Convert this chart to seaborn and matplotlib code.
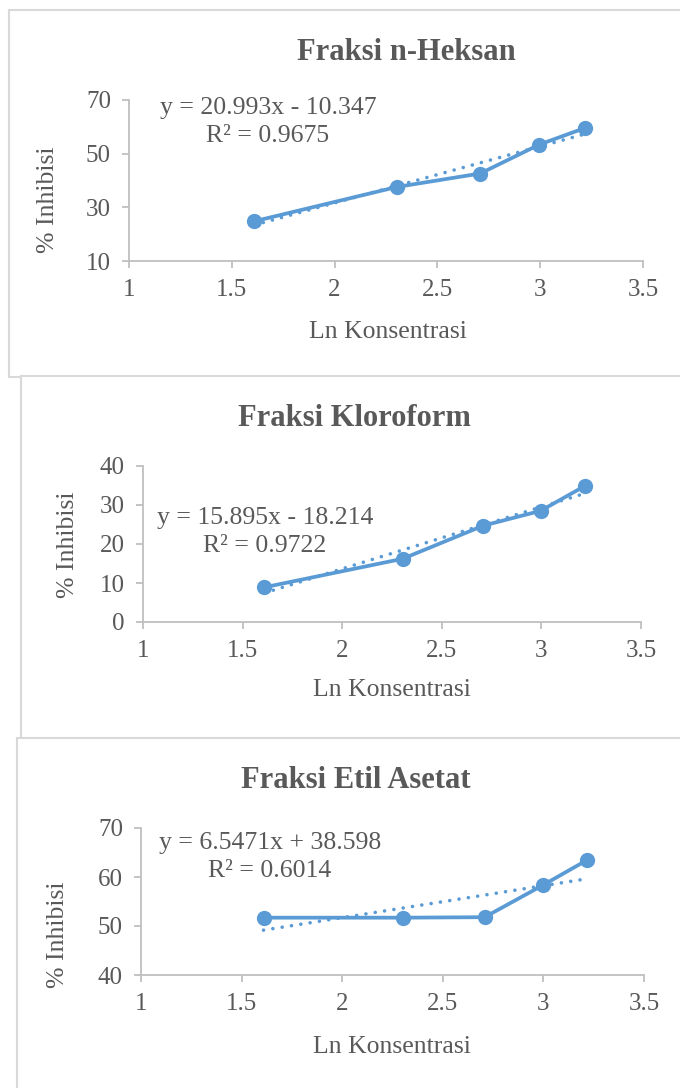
import matplotlib
matplotlib.use("Agg")
import matplotlib.pyplot as plt
from matplotlib.patches import Rectangle
import seaborn as sns
import pandas as pd

# ln konsentrasi (ln 5, 10, 15, 20, 25)
ln_konsentrasi = [1.609, 2.303, 2.708, 2.996, 3.219]

inhibisi_heksan = [24.8, 37.6, 42.6, 53.4, 59.6]
inhibisi_kloroform = [8.9, 16.2, 24.7, 28.5, 34.9]
inhibisi_etil = [51.7, 51.7, 51.8, 58.3, 63.5]

titles = ["Fraksi n-Heksan", "Fraksi Kloroform", "Fraksi Etil Asetat"]
equations = ["y = 20.993x - 10.347\nR² = 0.9675",
             "y = 15.895x - 18.214\nR² = 0.9722",
             "y = 6.5471x + 38.598\nR² = 0.6014"]
y_ticks = [[10, 30, 50, 70], [0, 10, 20, 30, 40], [40, 50, 60, 70]]
x_ticks = [1, 1.5, 2, 2.5, 3, 3.5]

sns.set_style("white")
plt.rcParams['font.family'] = ['Liberation Serif', 'DejaVu Serif']

W, H = 680, 1088
TXT = "#595959"
BLUE = "#5B9BD5"
AXC = "#BFBFBF"

fig = plt.figure(figsize=(W / 100, H / 100), dpi=100)
fig.patch.set_facecolor("white")


def fx(x):
    return x / W


def fy(y):
    return 1 - y / H


# chart frames (pixel boxes: x0, y0, x1, y1)
boxes = [(9, 10, 700, 377), (21, 376, 700, 738), (17, 738, 700, 1100)]
for i, (x0, y0, x1, y1) in enumerate(boxes):
    fig.add_artist(Rectangle((fx(x0), fy(y1)), (x1 - x0) / W, (y1 - y0) / H,
                             transform=fig.transFigure, facecolor="white",
                             edgecolor="#D9D9D9", lw=1.5, zorder=-3 + i))

# axes areas in pixels: left, right, top, bottom
axes_px = [(129, 643, 100, 261), (143, 641, 466, 622), (141, 644, 828, 975)]
title_pos = [(406, 52), (354, 418), (356, 780)]
eq_pos = [(268, 122), (265, 532), (270, 857)]
xlabel_pos = [(388, 332), (392, 690), (392, 1047)]
ylabel_pos = [(48, 200), (68, 545), (58, 935)]

series = [inhibisi_heksan, inhibisi_kloroform, inhibisi_etil]

for i, vals in enumerate(series):
    l, r, t, b = axes_px[i]
    ax = fig.add_axes([fx(l), fy(b), (r - l) / W, (b - t) / H])
    ax.set_facecolor("none")
    df = pd.DataFrame({"x": ln_konsentrasi, "y": vals})

    sns.lineplot(data=df, x="x", y="y", ax=ax, color=BLUE, lw=2.7,
                 marker="o", markersize=11, markeredgecolor=BLUE,
                 markeredgewidth=0, zorder=3, clip_on=False)
    sns.regplot(data=df, x="x", y="y", ax=ax, scatter=False, ci=None,
                line_kws=dict(color=BLUE, lw=2.6, ls=(0, (0.01, 2.6)),
                              dash_capstyle="round", zorder=4))

    ax.set_xlim(1, 3.5)
    ax.set_ylim(y_ticks[i][0], y_ticks[i][-1])
    ax.set_xticks(x_ticks)
    ax.set_xticklabels(["1", "1.5", "2", "2.5", "3", "3.5"])
    ax.set_yticks(y_ticks[i])
    ax.set_xlabel("")
    ax.set_ylabel("")
    for s in ["top", "right"]:
        ax.spines[s].set_visible(False)
    for s in ["left", "bottom"]:
        ax.spines[s].set_color(AXC)
        ax.spines[s].set_linewidth(1.3)
    ax.tick_params(axis="both", direction="out", length=5, width=1.3,
                   color=AXC, labelcolor=TXT, labelsize=18,
                   bottom=True, left=True)
    ax.tick_params(axis="x", pad=8)
    ax.tick_params(axis="y", pad=8)

    fig.text(fx(title_pos[i][0]), fy(title_pos[i][1]), titles[i],
             ha="center", va="center", fontsize=22, fontweight="bold",
             color=TXT)
    fig.text(fx(eq_pos[i][0]), fy(eq_pos[i][1]), equations[i],
             ha="center", va="center", multialignment="center",
             fontsize=18.5, color=TXT, linespacing=1.3)
    fig.text(fx(xlabel_pos[i][0]), fy(xlabel_pos[i][1]), "Ln Konsentrasi",
             ha="center", va="center", fontsize=18.5, color=TXT)
    fig.text(fx(ylabel_pos[i][0]), fy(ylabel_pos[i][1]), "% Inhibisi",
             ha="center", va="center", rotation=90, fontsize=18.5, color=TXT)

fig.savefig("out.png", dpi=100, facecolor="white")
